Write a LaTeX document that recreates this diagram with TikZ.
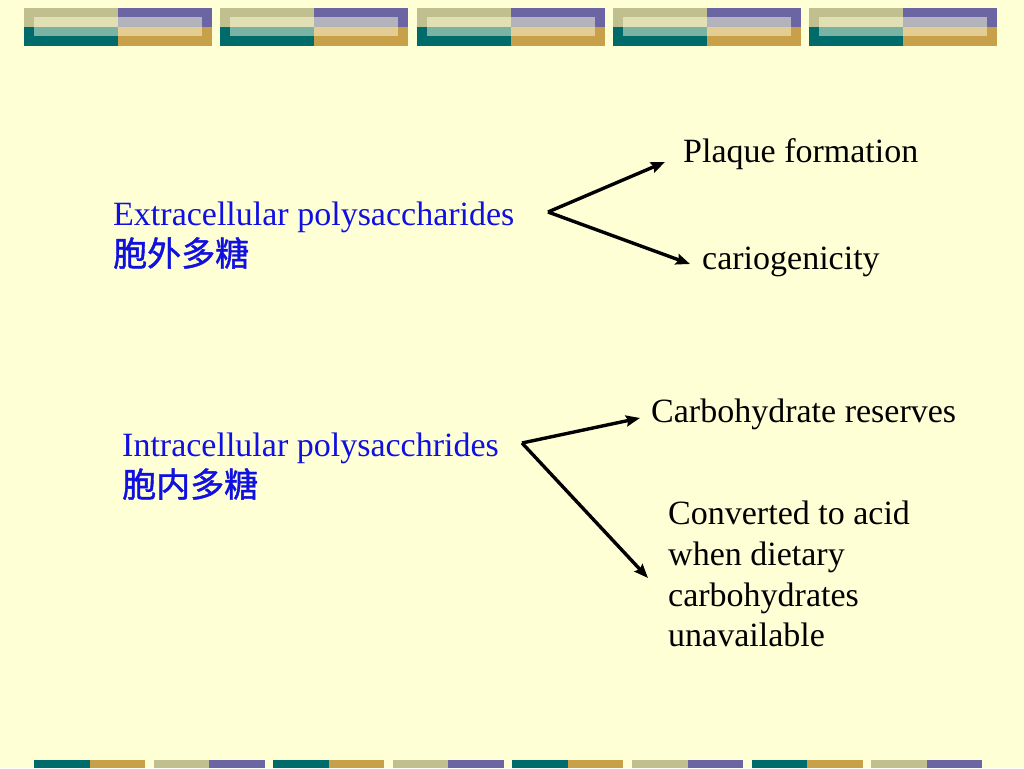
\documentclass[tikz,border=0pt]{standalone}
\usepackage{fontspec}
\setmainfont{Liberation Serif}
\newfontfamily\cjk[FakeBold=1.2]{Noto Sans CJK SC}
\usetikzlibrary{arrows.meta}
\definecolor{bg}{HTML}{FFFFD6}
\definecolor{khaki}{HTML}{BFBF8F}
\definecolor{purp}{HTML}{6B66A3}
\definecolor{teal2}{HTML}{006B6B}
\definecolor{gold}{HTML}{C8A04A}
\definecolor{lkhaki}{HTML}{E0E0B4}
\definecolor{lpurp}{HTML}{B3B3BB}
\definecolor{lteal}{HTML}{7AB3A3}
\definecolor{lgold}{HTML}{E3CD93}
\definecolor{txtblue}{HTML}{1010E0}
\tikzset{
  lbl/.style={anchor=base west,inner sep=0pt,font=\fontsize{34}{41}\selectfont,text=black,align=left},
  blbl/.style={lbl,text=txtblue},
  conn/.style={line width=3.4pt,-{Stealth[length=14pt,width=11pt,inset=2pt]},line join=miter}
}
\begin{document}
\begin{tikzpicture}[x=1pt,y=-1pt]
\fill[bg] (0,0) rectangle (1024,768);
\useasboundingbox (0,0) rectangle (1024,768);
% top banner
\foreach \i in {0,...,4}{
  \pgfmathsetmacro{\xa}{24+196.25*\i}
  \fill[khaki] (\xa,8) rectangle ++(94,19);
  \fill[purp] (\xa+94,8) rectangle ++(94,19);
  \fill[teal2] (\xa,27) rectangle ++(94,19);
  \fill[gold] (\xa+94,27) rectangle ++(94,19);
  \fill[lkhaki] (\xa+10,17.5) rectangle ++(84,9.5);
  \fill[lpurp] (\xa+94,17.5) rectangle ++(84,9.5);
  \fill[lteal] (\xa+10,27) rectangle ++(84,9.5);
  \fill[lgold] (\xa+94,27) rectangle ++(84,9.5);
}
% bottom banner
\foreach \j in {0,2,4,6}{
  \pgfmathsetmacro{\xb}{34+119.6*\j}
  \fill[teal2] (\xb,760) rectangle ++(55.5,8);
  \fill[gold] (\xb+55.5,760) rectangle ++(55.5,8);
}
\foreach \j in {1,3,5,7}{
  \pgfmathsetmacro{\xb}{34+119.6*\j}
  \fill[khaki] (\xb,760) rectangle ++(55.5,8);
  \fill[purp] (\xb+55.5,760) rectangle ++(55.5,8);
}
% texts
\node[blbl] (extra) at (113,225) {Extracellular polysaccharides};
\node[blbl] (extracn) at (113,266) {\cjk 胞外多糖};
\node[lbl] (plaque) at (683,162) {Plaque formation};
\node[lbl] (cario) at (702,269) {cariogenicity};
\node[blbl] (intra) at (122,456) {Intracellular polysacchrides};
\node[blbl] (intracn) at (122,497) {\cjk 胞内多糖};
\node[lbl] (carbo) at (651,422) {Carbohydrate reserves};
\node[lbl] (conv) at (668,524) {Converted to acid};
\node[lbl] (conv2) at (668,565) {when dietary};
\node[lbl] (conv3) at (668,606) {carbohydrates};
\node[lbl] (conv4) at (668,646) {unavailable};
% connectors
\coordinate (f1) at (548,212);
\coordinate (t1) at (665,162);
\coordinate (t2) at (690,264);
\coordinate (f2) at (522,443);
\coordinate (t3) at (640,418);
\coordinate (t4) at (648,578);
\draw[conn] (f1) -- (t1);
\draw[conn] (f1) -- (t2);
\draw[conn] (f2) -- (t3);
\draw[conn] (f2) -- (t4);
\end{tikzpicture}
\end{document}
